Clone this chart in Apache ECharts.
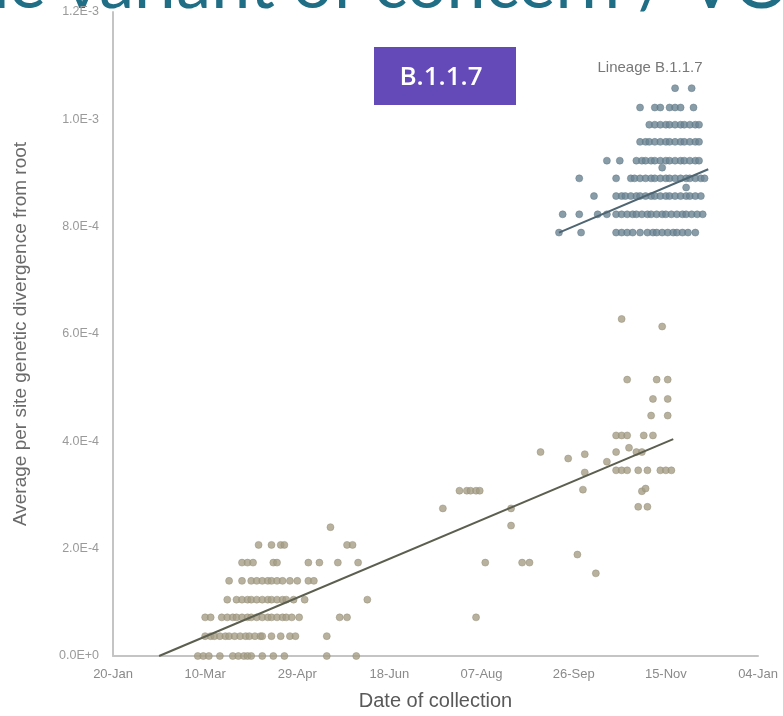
<!DOCTYPE html>
<html>
<head>
<meta charset="utf-8">
<script src="https://cdn.jsdelivr.net/npm/echarts@6/dist/echarts.min.js"></script>
<style>html,body{margin:0;padding:0;background:#fff;}#c{width:783px;height:716px;}</style>
</head>
<body>
<div id="c"></div>
<script>
// x: days since 20-Jan ; y: divergence in units of 1E-4
const xTickLabels = ['20-Jan','10-Mar','29-Apr','18-Jun','07-Aug','26-Sep','15-Nov','04-Jan'];
const yTickLabels = ['0.0E+0','2.0E-4','4.0E-4','6.0E-4','8.0E-4','1.0E-3','1.2E-3'];

const otherDays = [
  46,49,52,58,65,68,71,73,75,81,87,93,116,132,
  50,53,55,58,61,63,66,69,72,74,77,80,81,86,91,96,99,116,
  50,53,59,62,65,67,70,73,75,78,81,84,86,89,92,94,97,101,123,127,197,
  62,67,70,73,75,78,81,84,86,89,92,94,98,104,138,
  63,70,75,78,81,84,86,89,92,96,100,106,109,
  70,73,76,87,89,106,112,122,133,202,222,226,
  79,86,91,93,127,130,
  118,
  252,262,216,216,179,188,192,194,197,199,232,247,256,256,255,
  276,298,279,295,301,293,301,292,301,273,276,279,288,293,
  273,280,284,287,268,273,276,279,285,290,297,300,303,287,289,285,290
];
const otherDiv = [
  0,0,0,0,0,0,0,0,0,0,0,0,0,0,
  0.37,0.37,0.37,0.37,0.37,0.37,0.37,0.37,0.37,0.37,0.37,0.37,0.37,0.37,0.37,0.37,0.37,0.37,
  0.72,0.72,0.72,0.72,0.72,0.72,0.72,0.72,0.72,0.72,0.72,0.72,0.72,0.72,0.72,0.72,0.72,0.72,0.72,0.72,0.72,
  1.05,1.05,1.05,1.05,1.05,1.05,1.05,1.05,1.05,1.05,1.05,1.05,1.05,1.05,1.05,
  1.40,1.40,1.40,1.40,1.40,1.40,1.40,1.40,1.40,1.40,1.40,1.40,1.40,
  1.74,1.74,1.74,1.74,1.74,1.74,1.74,1.74,1.74,1.74,1.74,1.74,
  2.07,2.07,2.07,2.07,2.07,2.07,
  2.40,
  1.89,1.54,2.43,2.75,2.75,3.08,3.08,3.08,3.08,3.08,3.80,3.68,3.76,3.42,3.10,
  6.28,6.14,5.15,5.15,5.15,4.79,4.79,4.48,4.48,4.11,4.11,4.11,4.11,4.11,
  3.80,3.88,3.80,3.80,3.62,3.46,3.46,3.46,3.46,3.46,3.46,3.46,3.46,3.07,3.12,2.78,2.78
];

const b117Days = [
  305,314,
  286,294,297,302,305,308,315,
  291,294,297,300,302,305,308,310,313,316,318,
  286,289,291,294,297,300,302,305,308,310,313,316,318,
  268,275,284,287,289,292,294,297,300,302,305,308,310,313,316,318,298,
  253,273,281,283,286,289,292,294,297,300,302,305,308,311,313,316,319,321,311,
  261,273,276,278,281,284,286,289,292,294,297,300,302,305,308,311,313,316,319,
  244,253,263,268,273,276,279,282,284,287,290,292,295,298,300,303,306,309,311,314,317,320,
  242,254,273,276,279,282,286,290,293,295,298,301,304,306,309,312,316
];
const b117Div = [
  10.58,10.58,
  10.22,10.22,10.22,10.22,10.22,10.22,10.22,
  9.90,9.90,9.90,9.90,9.90,9.90,9.90,9.90,9.90,9.90,9.90,
  9.58,9.58,9.58,9.58,9.58,9.58,9.58,9.58,9.58,9.58,9.58,9.58,9.58,
  9.23,9.23,9.23,9.23,9.23,9.23,9.23,9.23,9.23,9.23,9.23,9.23,9.23,9.23,9.23,9.23,9.10,
  8.90,8.90,8.90,8.90,8.90,8.90,8.90,8.90,8.90,8.90,8.90,8.90,8.90,8.90,8.90,8.90,8.90,8.90,8.73,
  8.57,8.57,8.57,8.57,8.57,8.57,8.57,8.57,8.57,8.57,8.57,8.57,8.57,8.57,8.57,8.57,8.57,8.57,8.57,
  8.23,8.23,8.23,8.23,8.23,8.23,8.23,8.23,8.23,8.23,8.23,8.23,8.23,8.23,8.23,8.23,8.23,8.23,8.23,8.23,8.23,8.23,
  7.89,7.89,7.89,7.89,7.89,7.89,7.89,7.89,7.89,7.89,7.89,7.89,7.89,7.89,7.89,7.89,7.89
];

const otherTrendDays = [25, 304];
const otherTrendDiv = [0, 4.04];
const b117TrendDays = [242, 323];
const b117TrendDiv = [7.89, 9.07];

const zip = (a, b) => a.map((v, i) => [v, b[i]]);
const FONT = 'Liberation Sans, Arial, sans-serif';

const chart = echarts.init(document.getElementById('c'));
chart.setOption({
  animation: false,
  backgroundColor: '#fff',
  grid: { left: 113, right: 25, top: 12, bottom: 58, containLabel: false },
  xAxis: {
    type: 'value', min: 0, max: 350, interval: 50,
    name: 'Date of collection', nameLocation: 'middle', nameGap: 35,
    nameTextStyle: { fontFamily: FONT, fontSize: 20, color: '#595959' },
    axisLine: { show: true, lineStyle: { color: '#c4c4c4', width: 2 } },
    axisTick: { show: false },
    splitLine: { show: false },
    axisLabel: {
      margin: 12, color: '#8a8a8a', fontSize: 13, fontFamily: FONT,
      formatter: (v) => xTickLabels[Math.round(v / 50)]
    }
  },
  yAxis: {
    type: 'value', min: 0, max: 12, interval: 2,
    name: 'Average per site genetic divergence from root', nameLocation: 'middle', nameGap: 83,
    nameTextStyle: { fontFamily: FONT, fontSize: 19, color: '#6a6a6a' },
    axisLine: { show: true, lineStyle: { color: '#c4c4c4', width: 2 } },
    axisTick: { show: false },
    splitLine: { show: false },
    axisLabel: {
      margin: 14, color: '#9a9a9a', fontSize: 12.5, fontFamily: FONT,
      formatter: (v) => yTickLabels[Math.round(v / 2)]
    }
  },
  graphic: [
    { type: 'text', x: -30, y: -50, silent: true, z: -1,
      style: { text: 'he variant of concern / VOC', fontSize: 70, fontFamily: 'Lato, sans-serif', fill: '#1f6e86', verticalAlign: 'top' } },
    { type: 'rect', shape: { x: 374, y: 47, width: 142, height: 58 }, style: { fill: '#6449b9' } },
    { type: 'text', x: 441, y: 78, style: { text: 'B.1.1.7', fontSize: 26, fontWeight: 600, fontFamily: 'Open Sans, sans-serif', fill: '#fff', align: 'center', verticalAlign: 'middle' } },
    { type: 'text', x: 650, y: 68, style: { text: 'Lineage B.1.1.7', fontSize: 15, fontFamily: FONT, fill: '#777', align: 'center', verticalAlign: 'middle' } }
  ],
  series: [
    { type: 'scatter', data: zip(otherDays, otherDiv), symbolSize: 7,
      itemStyle: { color: '#a59e86', borderColor: '#948d75', borderWidth: 0.6 } },
    { type: 'scatter', data: zip(b117Days, b117Div), symbolSize: 7,
      itemStyle: { color: '#6c8593', borderColor: '#5d7683', borderWidth: 0.6 } },
    { type: 'line', data: zip(otherTrendDays, otherTrendDiv), symbol: 'none',
      lineStyle: { color: '#5c5f4f', width: 2 }, z: 3 },
    { type: 'line', data: zip(b117TrendDays, b117TrendDiv), symbol: 'none',
      lineStyle: { color: '#4f6672', width: 2 }, z: 3 }
  ]
});
</script>
</body>
</html>
